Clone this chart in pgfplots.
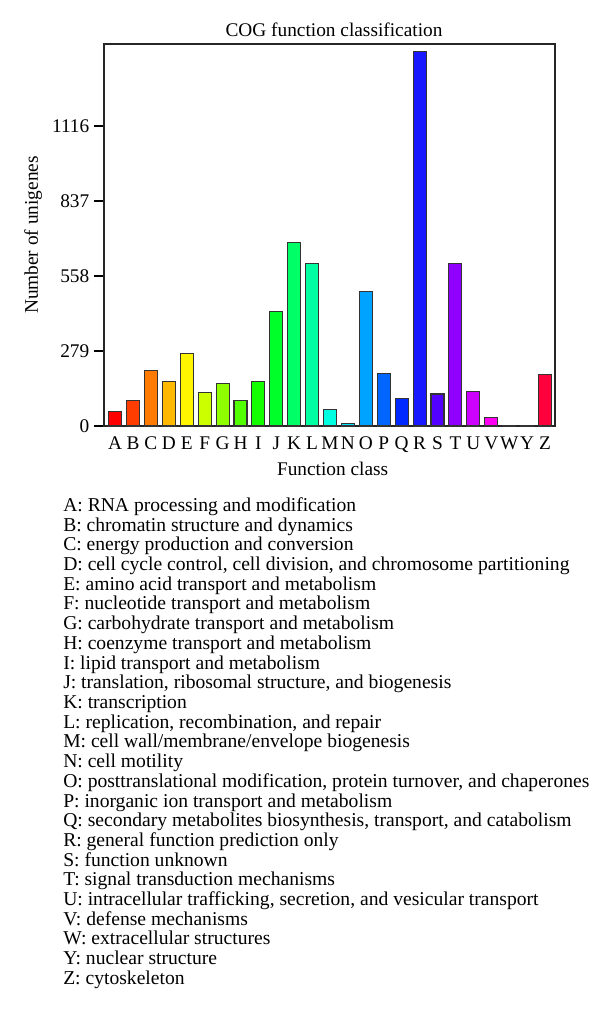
\documentclass[border=0pt]{standalone}
\usepackage{pgfplots}
\pgfplotsset{compat=1.18}
\usepackage{fontspec}
\setmainfont{Liberation Serif}
\definecolor{cA}{rgb}{1,0,0}
\definecolor{cB}{rgb}{1,0.24,0}
\definecolor{cC}{rgb}{1,0.48,0}
\definecolor{cD}{rgb}{1,0.72,0}
\definecolor{cE}{rgb}{1,0.96,0}
\definecolor{cF}{rgb}{0.8,1,0}
\definecolor{cG}{rgb}{0.56,1,0}
\definecolor{cH}{rgb}{0.32,1,0}
\definecolor{cI}{rgb}{0.08,1,0}
\definecolor{cJ}{rgb}{0,1,0.16}
\definecolor{cK}{rgb}{0,1,0.4}
\definecolor{cL}{rgb}{0,1,0.64}
\definecolor{cM}{rgb}{0,1,0.88}
\definecolor{cN}{rgb}{0,0.88,1}
\definecolor{cO}{rgb}{0,0.64,1}
\definecolor{cP}{rgb}{0,0.4,1}
\definecolor{cQ}{rgb}{0,0.16,1}
\definecolor{cR}{rgb}{0.1,0.1,1}
\definecolor{cS}{rgb}{0.32,0,1}
\definecolor{cT}{rgb}{0.56,0,1}
\definecolor{cU}{rgb}{0.8,0,1}
\definecolor{cV}{rgb}{1,0,0.96}
\definecolor{cW}{rgb}{1,0,0.72}
\definecolor{cY}{rgb}{1,0,0.48}
\definecolor{cZ}{rgb}{1,0,0.24}
\begin{document}
\begin{tikzpicture}[x=1pt,y=1pt]
\useasboundingbox (0,0) rectangle (450,-759.75);
\begin{axis}[
  at={(78pt,-319.5pt)}, anchor=south west,
  scale only axis, width=338.25pt, height=286.5pt,
  xmin=-0.62, xmax=24.56, ymin=0, ymax=1421,
  ytick={0,279,558,837,1116},
  xtick={0,...,24},
  xticklabels={A,B,C,D,E,F,G,H,I,J,K,L,M,N,O,P,Q,R,S,T,U,V,W,Y,Z},
  x tick style={draw=none},
  y tick style={black, line width=0.8pt},
  ytick pos=left, tick align=outside, major tick length=7.5pt,
  axis line style={line width=1pt, black!85},
  /pgf/number format/assume math mode=true,
  /pgf/number format/1000 sep={},
  ticklabel style={font=\fontsize{14.5}{16}\selectfont},
  xticklabel style={yshift=3pt},
  every axis title shift=0pt,
  title={COG function classification},
  title style={font=\fontsize{14.5}{16}\selectfont, at={(axis description cs:0.51,1.0366)}, anchor=center},
  xlabel={Function class},
  xlabel style={font=\fontsize{14.5}{16}\selectfont, at={(axis description cs:0.507,-0.1126)}, anchor=center},
  ylabel={Number of unigenes},
  ylabel style={font=\fontsize{14.5}{16}\selectfont, at={(axis description cs:-0.157,0.5)}, anchor=center},
  every axis plot/.append style={ybar, bar shift=0pt, bar width=9.75pt, draw=black!80, line width=0.8pt},
]
\addplot[fill=cA] coordinates {(0,55)};
\addplot[fill=cB] coordinates {(1,96)};
\addplot[fill=cC] coordinates {(2,205)};
\addplot[fill=cD] coordinates {(3,166)};
\addplot[fill=cE] coordinates {(4,270)};
\addplot[fill=cF] coordinates {(5,125)};
\addplot[fill=cG] coordinates {(6,157)};
\addplot[fill=cH] coordinates {(7,96)};
\addplot[fill=cI] coordinates {(8,166)};
\addplot[fill=cJ] coordinates {(9,425)};
\addplot[fill=cK] coordinates {(10,682)};
\addplot[fill=cL] coordinates {(11,604)};
\addplot[fill=cM] coordinates {(12,61)};
\addplot[fill=cN] coordinates {(13,11)};
\addplot[fill=cO] coordinates {(14,501)};
\addplot[fill=cP] coordinates {(15,196)};
\addplot[fill=cQ] coordinates {(16,104)};
\addplot[fill=cR] coordinates {(17,1392)};
\addplot[fill=cS] coordinates {(18,119)};
\addplot[fill=cT] coordinates {(19,605)};
\addplot[fill=cU] coordinates {(20,130)};
\addplot[fill=cV] coordinates {(21,33)};
\addplot[fill=cW] coordinates {(22,3)};
\addplot[fill=cY] coordinates {(23,3)};
\addplot[fill=cZ] coordinates {(24,190)};
\end{axis}
\node[anchor=north west, inner sep=0pt, align=left, font=\fontsize{14.7}{14.78}\selectfont] at (47.25pt,-373pt) {%
A: RNA processing and modification\\
B: chromatin structure and dynamics\\
C: energy production and conversion\\
D: cell cycle control, cell division, and chromosome partitioning\\
E: amino acid transport and metabolism\\
F: nucleotide transport and metabolism\\
G: carbohydrate transport and metabolism\\
H: coenzyme transport and metabolism\\
I: lipid transport and metabolism\\
J: translation, ribosomal structure, and biogenesis\\
K: transcription\\
L: replication, recombination, and repair\\
M: cell wall/membrane/envelope biogenesis\\
N: cell motility\\
O: posttranslational modification, protein turnover, and chaperones\\
P: inorganic ion transport and metabolism\\
Q: secondary metabolites biosynthesis, transport, and catabolism\\
R: general function prediction only\\
S: function unknown\\
T: signal transduction mechanisms\\
U: intracellular trafficking, secretion, and vesicular transport\\
V: defense mechanisms\\
W: extracellular structures\\
Y: nuclear structure\\
Z: cytoskeleton};
\end{tikzpicture}
\end{document}
